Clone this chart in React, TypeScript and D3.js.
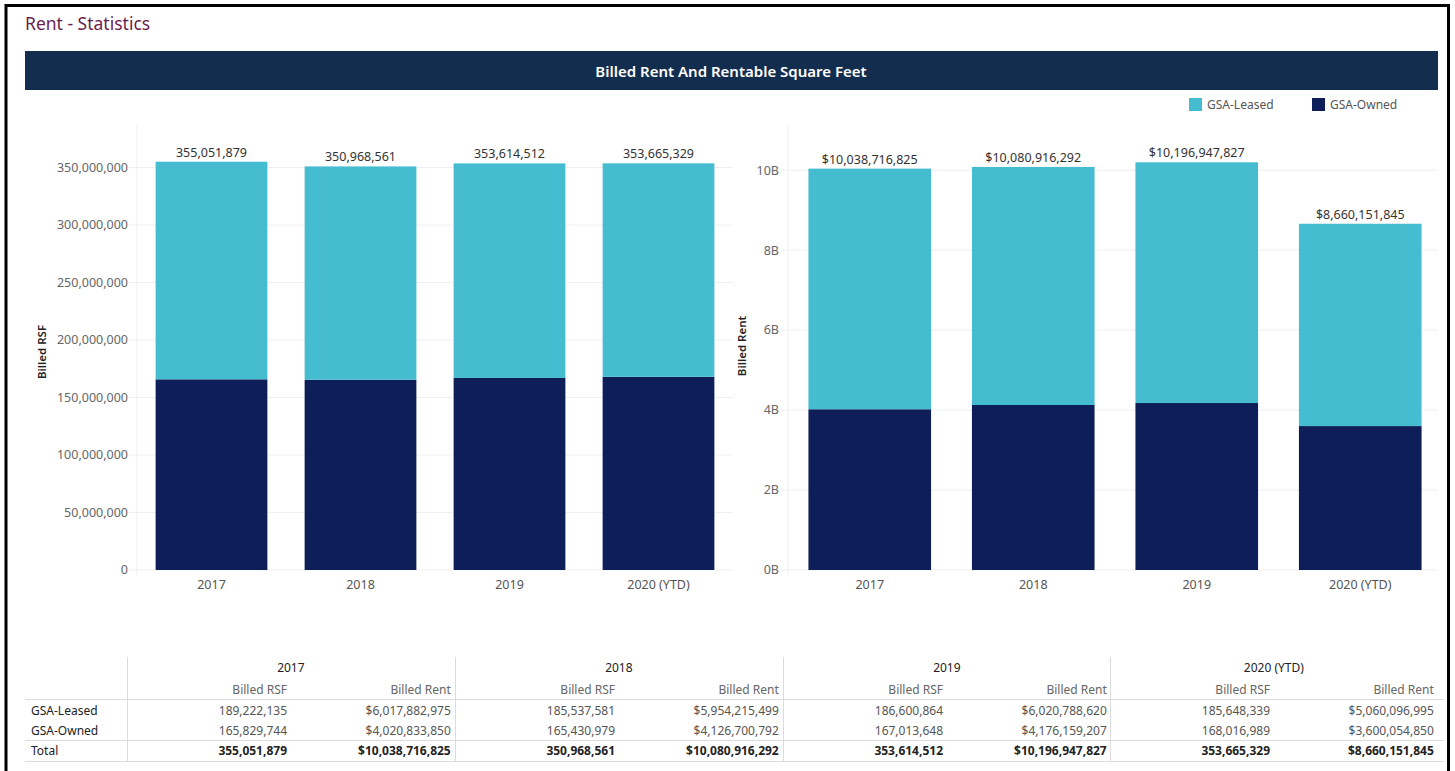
import * as d3 from "d3";

const years = ["2017", "2018", "2019", "2020 (YTD)"];
const leasedRSF = [189222135, 185537581, 186600864, 185648339];
const ownedRSF = [165829744, 165430979, 167013648, 168016989];
const totalRSF = [355051879, 350968561, 353614512, 353665329];
const leasedRent = [6017882975, 5954215499, 6020788620, 5060096995];
const ownedRent = [4020833850, 4126700792, 4176159207, 3600054850];
const totalRent = [10038716825, 10080916292, 10196947827, 8660151845];
const seriesNames = ["GSA-Leased", "GSA-Owned"];

const W = 1455;
const H = 771;
const FONT = "'Noto Sans', 'DejaVu Sans', sans-serif";
const LEASED = "#45bcd0";
const OWNED = "#0e1e58";
const GRID = "#efefef";

const fmtNum = d3.format(",");
const fmtMoney = (v: number) => "$" + d3.format(",")(v);

interface PanelProps {
  x0: number;
  x1: number;
  yMax: number;
  owned: number[];
  leased: number[];
  totals: number[];
  tickFmt: (v: number) => string;
  labelFmt: (v: number) => string;
  axisTitle: string;
  titleX: number;
  titleY: number;
}

function BarPanel(p: PanelProps) {
  const top = 125;
  const bottom = 570;
  const x = d3.scaleBand<string>().domain(years).range([p.x0, p.x1]).paddingInner(0.25).paddingOuter(0.125);
  const y = d3.scaleLinear().domain([0, p.yMax]).range([bottom, top]);
  const ticks = y.ticks(7);
  return (
    <g>
      {ticks.map((t) => (
        <g key={t}>
          <line x1={p.x0 - 8} x2={Math.min(p.x1, 1438)} y1={y(t)} y2={y(t)} stroke={GRID} strokeWidth={1} />
          <text x={p.x0 - 9} y={y(t)} dy="0.35em" textAnchor="end" fontSize={12.5} fill="#666">
            {p.tickFmt(t)}
          </text>
        </g>
      ))}
      <line x1={p.x0} x2={p.x0} y1={top} y2={bottom + 6} stroke={GRID} />
      <text
        transform={`translate(${p.titleX},${p.titleY}) rotate(-90)`}
        textAnchor="middle"
        dy="0.35em"
        fontSize={11.5}
        fontWeight={600}
        fill="#222"
      >
        {p.axisTitle}
      </text>
      {years.map((yr, i) => {
        const bx = x(yr)!;
        const bw = x.bandwidth();
        return (
          <g key={yr}>
            <rect x={bx} width={bw} y={y(p.owned[i])} height={bottom - y(p.owned[i])} fill={OWNED} />
            <rect
              x={bx}
              width={bw}
              y={y(p.owned[i] + p.leased[i])}
              height={y(p.owned[i]) - y(p.owned[i] + p.leased[i])}
              fill={LEASED}
            />
            <text x={bx + bw / 2} y={y(p.totals[i]) - 5} textAnchor="middle" fontSize={12.5} fill="#333">
              {p.labelFmt(p.totals[i])}
            </text>
            <text x={bx + bw / 2} y={589} textAnchor="middle" fontSize={12.5} fill="#555">
              {yr}
            </text>
          </g>
        );
      })}
    </g>
  );
}

function Table() {
  const left = 25;
  const right = 1444;
  const rowLabelEnd = 127;
  const groupW = (1438 - rowLabelEnd) / years.length;
  const rows = [
    { name: seriesNames[0], rsf: leasedRSF, rent: leasedRent, y: 711, bold: false },
    { name: seriesNames[1], rsf: ownedRSF, rent: ownedRent, y: 731, bold: false },
    { name: "Total", rsf: totalRSF, rent: totalRent, y: 751, bold: true },
  ];
  const line = "#dcdcdc";
  return (
    <g fontSize={12}>
      <line x1={left} x2={right} y1={699.5} y2={699.5} stroke={line} />
      <line x1={left} x2={right} y1={740.5} y2={740.5} stroke={line} />
      <line x1={left} x2={right} y1={761.5} y2={761.5} stroke={line} />
      <line x1={rowLabelEnd + 0.5} x2={rowLabelEnd + 0.5} y1={657} y2={762} stroke={line} />
      {years.map((yr, i) => {
        const gx = Math.round(rowLabelEnd + i * groupW);
        const rsfRight = gx + 160;
        const rentRight = gx + groupW - 4;
        return (
          <g key={yr}>
            {i > 0 && <line x1={gx + 0.5} x2={gx + 0.5} y1={657} y2={762} stroke={line} />}
            <text x={gx + groupW / 2} y={668} dy="0.35em" textAnchor="middle" fill="#222">
              {yr}
            </text>
            <text x={rsfRight} y={690} dy="0.35em" textAnchor="end" fill="#666">
              Billed RSF
            </text>
            <text x={rentRight} y={690} dy="0.35em" textAnchor="end" fill="#666">
              Billed Rent
            </text>
            {rows.map((r) => (
              <g key={r.name} fontWeight={r.bold ? 700 : 400} fill={r.bold ? "#222" : "#555"}>
                <text x={rsfRight} y={r.y} dy="0.35em" textAnchor="end">
                  {fmtNum(r.rsf[i])}
                </text>
                <text x={rentRight} y={r.y} dy="0.35em" textAnchor="end">
                  {fmtMoney(r.rent[i])}
                </text>
              </g>
            ))}
          </g>
        );
      })}
      {rows.map((r) => (
        <text key={r.name} x={31} y={r.y} dy="0.35em" fill="#222">
          {r.name}
        </text>
      ))}
    </g>
  );
}

export default function App() {
  const legendColors = [LEASED, OWNED];
  const legendX = [1189, 1312];
  return (
    <svg
      width={W}
      height={H}
      style={{ position: "absolute", left: 0, top: 0, background: "#fff" }}
      fontFamily={FONT}
    >
      <rect x={0} y={0} width={W} height={H} fill="#fff" />
      {/* outer frame */}
      <path d={`M6,${H} V5.5 H1448.5 V${H}`} fill="none" stroke="#000" strokeWidth={3} />
      <text x={25} y={30} fontSize={17.5} fill="#6a1e4e">
        Rent - Statistics
      </text>
      <rect x={25} y={51} width={1413} height={39} fill="#132d4e" />
      <text x={731} y={72} dy="0.35em" textAnchor="middle" fontSize={15} fontWeight={600} fill="#fff">
        Billed Rent And Rentable Square Feet
      </text>
      {seriesNames.map((s, i) => (
        <g key={s}>
          <rect x={legendX[i]} y={98} width={13} height={13} fill={legendColors[i]} />
          <text x={legendX[i] + 18} y={105} dy="0.35em" fontSize={12} fill="#555">
            {s}
          </text>
        </g>
      ))}
      <BarPanel
        x0={137}
        x1={733}
        yMax={387e6}
        owned={ownedRSF}
        leased={leasedRSF}
        totals={totalRSF}
        tickFmt={(v) => fmtNum(v)}
        labelFmt={(v) => fmtNum(v)}
        axisTitle="Billed RSF"
        titleX={42}
        titleY={352}
      />
      <BarPanel
        x0={788}
        x1={1442}
        yMax={11.13e9}
        owned={ownedRent}
        leased={leasedRent}
        totals={totalRent}
        tickFmt={(v) => `${v / 1e9}B`}
        labelFmt={fmtMoney}
        axisTitle="Billed Rent"
        titleX={742}
        titleY={346}
      />
      <Table />
    </svg>
  );
}
